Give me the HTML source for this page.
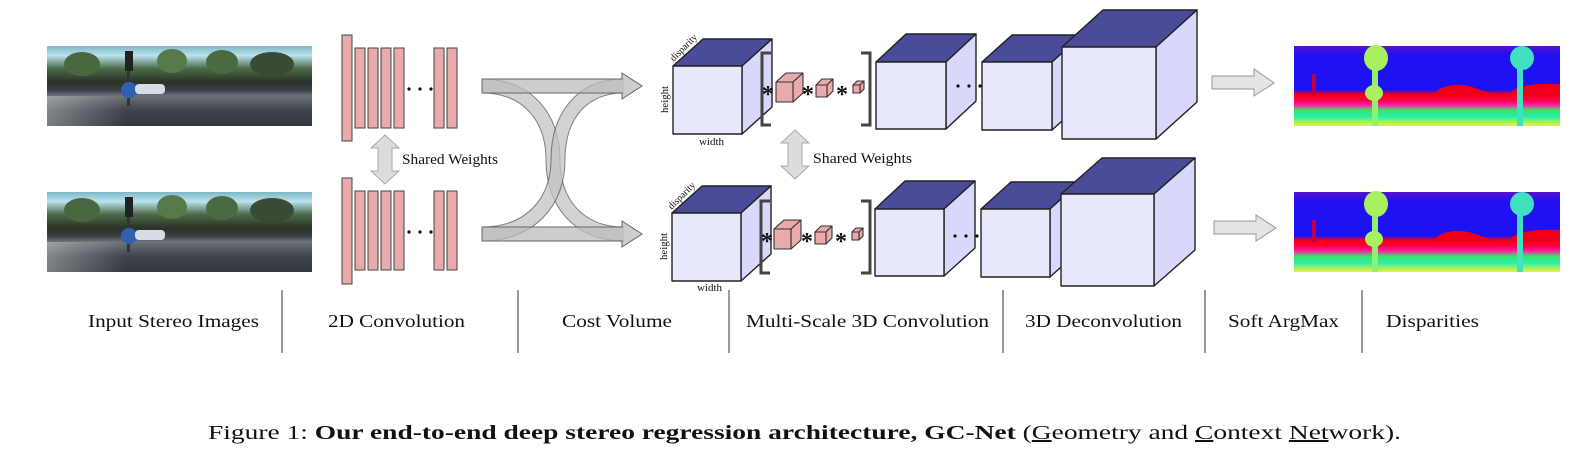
<!DOCTYPE html>
<html><head><meta charset="utf-8"><style>
html,body{margin:0;padding:0;background:#fff;}
svg{display:block;}
text{font-family:"Liberation Serif","Times New Roman",serif;fill:#111;}
</style></head><body>
<svg width="1595" height="471" viewBox="0 0 1595 471" xmlns="http://www.w3.org/2000/svg">
<defs>
<linearGradient id="ph" x1="0" y1="0" x2="0" y2="1">
<stop offset="0" stop-color="#7fb6c4"/><stop offset="0.12" stop-color="#b9e3ee"/>
<stop offset="0.28" stop-color="#4c6a48"/><stop offset="0.45" stop-color="#2a3328"/>
<stop offset="0.55" stop-color="#3a3f44"/><stop offset="0.62" stop-color="#6c7278"/>
<stop offset="0.8" stop-color="#40454c"/><stop offset="1" stop-color="#33373e"/>
</linearGradient>
<linearGradient id="phl" x1="0" y1="0" x2="1" y2="0">
<stop offset="0" stop-color="#fff" stop-opacity="0.35"/><stop offset="0.3" stop-color="#fff" stop-opacity="0"/>
</linearGradient>
<linearGradient id="dp" x1="0" y1="0" x2="0" y2="1">
<stop offset="0" stop-color="#5a10c8"/><stop offset="0.1" stop-color="#2410f0"/>
<stop offset="0.55" stop-color="#1a12f4"/><stop offset="0.6" stop-color="#f00018"/>
<stop offset="0.68" stop-color="#ff0040"/><stop offset="0.74" stop-color="#ff20b0"/>
<stop offset="0.8" stop-color="#40e060"/><stop offset="0.88" stop-color="#20f0b0"/>
<stop offset="0.95" stop-color="#a0f060"/><stop offset="1" stop-color="#f0f040"/>
</linearGradient>
<g id="photo">
<rect x="0" y="0" width="265" height="80" fill="url(#ph)"/>
<ellipse cx="35" cy="18" rx="18" ry="12" fill="#4a6840"/>
<ellipse cx="125" cy="15" rx="15" ry="12" fill="#587a48"/>
<ellipse cx="175" cy="16" rx="16" ry="12" fill="#4a6a40"/>
<ellipse cx="225" cy="18" rx="22" ry="12" fill="#3a4a34"/>
<rect x="78" y="5" width="8" height="20" fill="#222"/>
<rect x="80" y="25" width="3" height="35" fill="#333"/>
<circle cx="82" cy="44" r="8" fill="#3060b0"/>
<rect x="88" y="38" width="30" height="10" rx="4" fill="#d8dde4"/>
<rect x="0" y="50" width="265" height="30" fill="url(#phl)"/>
</g>
<g id="disp">
<rect x="0" y="0" width="266" height="80" fill="url(#dp)"/>
<path d="M140,48 Q150,36 175,40 L205,50 L140,50 Z" fill="#f00018"/>
<path d="M215,48 Q225,36 266,38 L266,50 Z" fill="#f00018"/>
<rect x="78" y="0" width="6" height="80" fill="#90f070"/>
<ellipse cx="82" cy="12" rx="12" ry="13" fill="#a8f060"/>
<ellipse cx="80" cy="47" rx="9" ry="8" fill="#a8f060"/>
<rect x="223" y="10" width="6" height="70" fill="#40e0c0"/>
<ellipse cx="228" cy="12" rx="12" ry="12" fill="#40e0c0"/>
<rect x="18" y="28" width="4" height="22" fill="#c00040"/>
</g>
</defs>

<use href="#photo" x="47" y="46"/>
<use href="#photo" x="47" y="192"/>

<g fill="#e8aaaa" stroke="#444" stroke-width="1">
<rect x="342" y="35" width="10" height="106"/>
<rect x="355" y="48" width="10" height="80"/><rect x="368" y="48" width="10" height="80"/>
<rect x="381" y="48" width="10" height="80"/><rect x="394" y="48" width="10" height="80"/>
<rect x="434" y="48" width="10" height="80"/><rect x="447" y="48" width="10" height="80"/>
<rect x="342" y="178" width="10" height="106"/>
<rect x="355" y="191" width="10" height="79"/><rect x="368" y="191" width="10" height="79"/>
<rect x="381" y="191" width="10" height="79"/><rect x="394" y="191" width="10" height="79"/>
<rect x="434" y="191" width="10" height="79"/><rect x="447" y="191" width="10" height="79"/>
</g>
<g fill="#111">
<circle cx="409" cy="89" r="1.6"/><circle cx="420" cy="89" r="1.6"/><circle cx="431" cy="89" r="1.6"/>
<circle cx="409" cy="232" r="1.6"/><circle cx="420" cy="232" r="1.6"/><circle cx="431" cy="232" r="1.6"/>
</g>

<polygon points="385,135 399,148 392,148 392,171 399,171 385,184 371,171 378,171 378,148 371,148" fill="#dcdcdc" stroke="#aaa" stroke-width="1"/>
<text x="402" y="164" font-size="15" textLength="96" lengthAdjust="spacingAndGlyphs">Shared Weights</text>
<polygon points="795,130 809,143 802,143 802,166 809,166 795,179 781,166 788,166 788,143 781,143" fill="#dcdcdc" stroke="#aaa" stroke-width="1"/>
<text x="813" y="163" font-size="15" textLength="99" lengthAdjust="spacingAndGlyphs">Shared Weights</text>

<g opacity="0.75">
<path d="M482,86 C528,86 553,118 553,160 C553,202 578,234 624,234" fill="none" stroke="#555" stroke-width="15"/>
<path d="M482,86 C528,86 553,118 553,160 C553,202 578,234 624,234" fill="none" stroke="#c4c4c4" stroke-width="13"/>
</g>
<g opacity="0.75">
<path d="M482,234 C530,234 558,202 558,160 C558,118 580,86 624,86" fill="none" stroke="#555" stroke-width="15"/>
<path d="M482,234 C530,234 558,202 558,160 C558,118 580,86 624,86" fill="none" stroke="#c4c4c4" stroke-width="13"/>
</g>
<polygon points="482,79 622,79 622,73 642,86 622,99 622,93 482,93" fill="#bcbcbc" fill-opacity="0.75" stroke="#666" stroke-width="1"/>
<polygon points="482,227 622,227 622,221 642,234 622,247 622,241 482,241" fill="#bcbcbc" fill-opacity="0.75" stroke="#666" stroke-width="1"/>

<g stroke="#222" stroke-width="1.4" stroke-linejoin="round">
<polygon points="673,66 703,39 772,39 742,66" fill="#4a4c9a"/>
<polygon points="742,66 772,39 772,107 742,134" fill="#d8d8fa"/>
<rect x="673" y="66" width="69" height="68" fill="#e8e8fc"/>
<polygon points="672,213 702,186 771,186 741,213" fill="#4a4c9a"/>
<polygon points="741,213 771,186 771,254 741,281" fill="#d8d8fa"/>
<rect x="672" y="213" width="69" height="68" fill="#e8e8fc"/>

<polygon points="876,62 906,34 976,34 946,62" fill="#4a4c9a"/>
<polygon points="946,62 976,34 976,101 946,129" fill="#d8d8fa"/>
<rect x="876" y="62" width="70" height="67" fill="#e8e8fc"/>
<polygon points="982,62 1012,35 1082,35 1052,62" fill="#4a4c9a"/>
<polygon points="1052,62 1082,35 1082,103 1052,130" fill="#d8d8fa"/>
<rect x="982" y="62" width="70" height="68" fill="#e8e8fc"/>
<polygon points="1062,47 1103,10 1197,10 1156,47" fill="#4a4c9a"/>
<polygon points="1156,47 1197,10 1197,102 1156,139" fill="#d8d8fa"/>
<rect x="1062" y="47" width="94" height="92" fill="#e8e8fc"/>

<polygon points="875,209 905,181 975,181 944,209" fill="#4a4c9a"/>
<polygon points="944,209 975,181 975,248 944,276" fill="#d8d8fa"/>
<rect x="875" y="209" width="69" height="67" fill="#e8e8fc"/>
<polygon points="981,209 1011,182 1080,182 1050,209" fill="#4a4c9a"/>
<polygon points="1050,209 1080,182 1080,250 1050,277" fill="#d8d8fa"/>
<rect x="981" y="209" width="69" height="68" fill="#e8e8fc"/>
<polygon points="1061,194 1102,158 1195,158 1154,194" fill="#4a4c9a"/>
<polygon points="1154,194 1195,158 1195,250 1154,286" fill="#d8d8fa"/>
<rect x="1061" y="194" width="93" height="92" fill="#e8e8fc"/>
</g>

<g stroke="#333" stroke-width="1.1" stroke-linejoin="round" fill="#e8aaaa">
<polygon points="776,82 786,73 803,73 793,82"/><polygon points="793,82 803,73 803,93 793,102"/><rect x="776" y="82" width="17" height="20"/>
<polygon points="816,85 822,79 833,79 827,85"/><polygon points="827,85 833,79 833,91 827,97"/><rect x="816" y="85" width="11" height="12"/>
<polygon points="853,85 857,81 864,81 860,85"/><polygon points="860,85 864,81 864,89 860,93"/><rect x="853" y="85" width="7" height="8"/>
<polygon points="774,229 784,220 801,220 791,229"/><polygon points="791,229 801,220 801,240 791,249"/><rect x="774" y="229" width="17" height="20"/>
<polygon points="815,232 821,226 832,226 826,232"/><polygon points="826,232 832,226 832,238 826,244"/><rect x="815" y="232" width="11" height="12"/>
<polygon points="852,232 856,228 863,228 859,232"/><polygon points="859,232 863,228 863,236 859,240"/><rect x="852" y="232" width="7" height="8"/>
</g>

<g fill="none" stroke="#444" stroke-width="3">
<polyline points="771,53 762,53 762,125 771,125"/>
<polyline points="861,53 870,53 870,125 861,125"/>
<polyline points="770,201 761,201 761,273 770,273"/>
<polyline points="861,201 870,201 870,273 861,273"/>
</g>
<g font-size="24" fill="#333" font-weight="bold">
<text x="762" y="102">*</text><text x="802" y="102">*</text><text x="836" y="102">*</text>
<text x="761" y="249">*</text><text x="801" y="249">*</text><text x="835" y="249">*</text>
</g>
<g fill="#111">
<circle cx="958" cy="86" r="1.6"/><circle cx="969" cy="86" r="1.6"/><circle cx="980" cy="86" r="1.6"/>
<circle cx="955" cy="236" r="1.6"/><circle cx="966" cy="236" r="1.6"/><circle cx="977" cy="236" r="1.6"/>
</g>

<g font-size="10">
<text x="666" y="51" textLength="34" lengthAdjust="spacingAndGlyphs" transform="rotate(-45 683 47)">disparity</text>
<text x="652" y="103" textLength="27" lengthAdjust="spacingAndGlyphs" transform="rotate(-90 665 100)">height</text>
<text x="699" y="145" textLength="25" lengthAdjust="spacingAndGlyphs">width</text>
<text x="664" y="199" textLength="34" lengthAdjust="spacingAndGlyphs" transform="rotate(-45 681 195)">disparity</text>
<text x="651" y="250" textLength="27" lengthAdjust="spacingAndGlyphs" transform="rotate(-90 664 247)">height</text>
<text x="697" y="291" textLength="25" lengthAdjust="spacingAndGlyphs">width</text>
</g>

<polygon points="1212,76 1254,76 1254,69 1274,83 1254,96 1254,89 1212,89" fill="#e4e4e4" stroke="#999" stroke-width="1"/>
<polygon points="1214,221 1256,221 1256,215 1276,228 1256,241 1256,234 1214,234" fill="#e4e4e4" stroke="#999" stroke-width="1"/>

<use href="#disp" x="1294" y="46"/>
<use href="#disp" x="1294" y="192"/>

<g stroke="#333" stroke-width="1">
<line x1="282" y1="290" x2="282" y2="353"/>
<line x1="518" y1="290" x2="518" y2="353"/>
<line x1="729" y1="290" x2="729" y2="353"/>
<line x1="1003" y1="290" x2="1003" y2="353"/>
<line x1="1205" y1="290" x2="1205" y2="353"/>
<line x1="1362" y1="290" x2="1362" y2="353"/>
</g>
<g font-size="18">
<text x="88" y="327" textLength="171" lengthAdjust="spacingAndGlyphs">Input Stereo Images</text>
<text x="328" y="327" textLength="137" lengthAdjust="spacingAndGlyphs">2D Convolution</text>
<text x="562" y="327" textLength="110" lengthAdjust="spacingAndGlyphs">Cost Volume</text>
<text x="746" y="327" textLength="243" lengthAdjust="spacingAndGlyphs">Multi-Scale 3D Convolution</text>
<text x="1025" y="327" textLength="157" lengthAdjust="spacingAndGlyphs">3D Deconvolution</text>
<text x="1228" y="327" textLength="111" lengthAdjust="spacingAndGlyphs">Soft ArgMax</text>
<text x="1386" y="327" textLength="93" lengthAdjust="spacingAndGlyphs">Disparities</text>
</g>

<text x="208" y="439" font-size="20" textLength="1193" lengthAdjust="spacingAndGlyphs">Figure 1: <tspan font-weight="bold">Our end-to-end deep stereo regression architecture, GC-Net</tspan> (<tspan text-decoration="underline">G</tspan>eometry and <tspan text-decoration="underline">C</tspan>ontext <tspan text-decoration="underline">Net</tspan>work).</text>
</svg>
</body></html>
